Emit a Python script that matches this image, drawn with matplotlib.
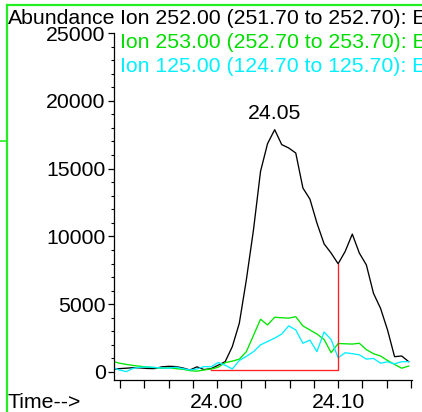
import matplotlib
matplotlib.use("Agg")
import matplotlib.pyplot as plt
from matplotlib.lines import Line2D
from matplotlib.ticker import FixedLocator, MultipleLocator, FuncFormatter

plt.rcParams['font.family'] = ['Liberation Sans', 'DejaVu Sans']

# scan times (min)
times = [23.9134, 23.9193, 23.9251, 23.9309, 23.9368, 23.9426, 23.9484, 23.9543,
         23.9601, 23.9659, 23.9717, 23.9776, 23.9834, 23.9892, 23.9951, 24.0009,
         24.0067, 24.0126, 24.0184, 24.0242, 24.0301, 24.0359, 24.0417, 24.0476,
         24.0534, 24.0592, 24.0650, 24.0709, 24.0767, 24.0825, 24.0884, 24.0942,
         24.1000, 24.1058, 24.1117, 24.1175, 24.1233, 24.1292, 24.1350, 24.1408,
         24.1466, 24.1525, 24.1583]

ion252 = [200, 250, 280, 320, 300, 260, 250, 380, 420, 400, 300, 150, 380, 180,
          250, 500, 760, 1870, 3600, 6800, 10490, 14790, 16840, 17870, 16770, 16520,
          16150, 13570, 12750, 10980, 9450, 8770, 7980, 8890, 10170, 8770, 7900,
          5800, 4700, 3100, 1130, 1180, 760]

ion253 = [800, 650, 560, 480, 420, 360, 330, 280, 300, 250, 200, 100, 60, 150,
          220, 350, 690, 800, 950, 1500, 2700, 3890, 3470, 4040, 4000, 3970, 4080,
          3400, 3100, 2800, 2400, 1430, 2100, 2080, 2060, 2120, 1650, 1350, 1180,
          850, 560, 280, 440]

ion125 = [350, 150, 30, 280, 350, 380, 330, 300, 280, 350, 250, 150, 220, 400,
          380, 700, 500, 220, 850, 1150, 1500, 2000, 2250, 2500, 2800, 3400, 3100,
          2120, 2350, 1500, 2950, 2400, 1050, 1420, 1350, 1270, 950, 1000, 650, 750,
          600, 760, 760]

legend_lines = ["Ion 252.00 (251.70 to 252.70): EIC.D",
                "Ion 253.00 (252.70 to 253.70): EIC.D",
                "Ion 125.00 (124.70 to 125.70): EIC.D"]
trace_colors = ['black', '#00e600', '#00f0ff']
text_colors = ['black', '#00dd00', '#00f0ff']

peak_label = "24.05"
base_start_idx = 14
base_end_idx = 32
base_level = 180
xtick_pos = [23.92, 23.94, 23.96, 23.98, 24.00, 24.02, 24.04, 24.06, 24.08,
             24.10, 24.12, 24.14, 24.16]
xtick_labeled = [24.00, 24.10]

fs = 15.3
W, H = 422, 412
fig = plt.figure(figsize=(W / 100, H / 100), dpi=100)
ax = fig.add_axes([114 / W, 1 - 380 / H, (412 - 114) / W, (380 - 33) / H])

for ys, c in zip([ion252, ion253, ion125], trace_colors):
    ax.plot(times, ys, color=c, lw=0.95)

# integration baseline
ax.plot([times[base_start_idx], times[base_end_idx], times[base_end_idx]],
        [base_level, base_level, ion252[base_end_idx]], color='#ff2020', lw=0.95)

pk = ion252.index(max(ion252))
ax.annotate(peak_label, (times[pk], ion252[pk]), xytext=(0, 5),
            textcoords='offset points', ha='center', va='bottom', fontsize=fs)

ax.set_xlim(23.9149, 24.161)
ax.set_ylim(-590, 25000)
for s in ['top', 'right']:
    ax.spines[s].set_visible(False)
ax.spines['left'].set_linewidth(0.9)
ax.spines['bottom'].set_linewidth(0.9)

ax.yaxis.set_major_locator(MultipleLocator(5000))
ax.yaxis.set_minor_locator(MultipleLocator(1000))
ax.tick_params(axis='y', which='major', length=4, width=0.9, labelsize=fs, pad=2)
ax.tick_params(axis='y', which='minor', length=2, width=0.8)

ax.xaxis.set_major_locator(FixedLocator(xtick_pos))
ax.xaxis.set_major_formatter(FuncFormatter(
    lambda v, p: f"{v:.2f}" if any(abs(v - t) < 1e-6 for t in xtick_labeled) else ""))
ax.tick_params(axis='x', which='major', length=6, width=0.9, labelsize=fs, pad=3)

fig.text(8 / W, 1 - 18 / H, "Abundance", fontsize=fs, va='center', ha='left')
fig.text(8 / W, 1 - 402 / H, "Time-->", fontsize=fs, va='center', ha='left')
for i, (s, c) in enumerate(zip(legend_lines, text_colors)):
    fig.text(120 / W, 1 - (18 + 24 * i) / H, s, color=c, fontsize=fs,
             va='center', ha='left')

# green frame
g = '#22ee22'
fig.add_artist(Line2D([7 / W, 7 / W], [0, 1 - 5 / H], color=g, lw=1.6))
fig.add_artist(Line2D([7 / W, 1], [1 - 5 / H, 1 - 5 / H], color=g, lw=1.6))
fig.add_artist(Line2D([0, 7 / W], [1 - 141 / H, 1 - 141 / H], color=g, lw=1.2))

fig.savefig("out.png", dpi=100)
